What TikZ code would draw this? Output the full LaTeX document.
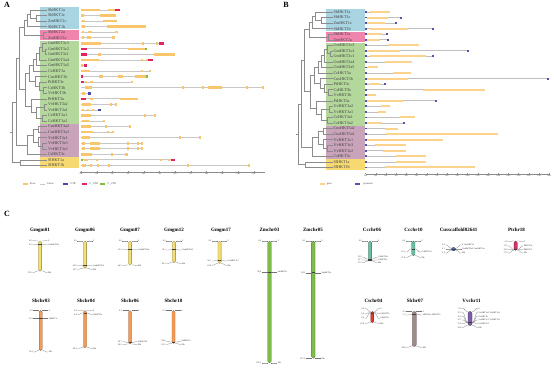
\documentclass[tikz,border=0pt]{standalone}
\usepackage{fontspec}
\setmainfont{Liberation Serif}
\usetikzlibrary{calc}
\definecolor{co}{HTML}{F9C56D}
\definecolor{cr}{HTML}{E0245E}
\definecolor{cg}{HTML}{7CBF3F}
\definecolor{cb}{HTML}{4B4BA6}
\definecolor{Bo}{HTML}{FBD38C}
\definecolor{Bp}{HTML}{5353A8}
\definecolor{boxblue}{HTML}{A9D5E2}
\definecolor{boxpink}{HTML}{EF85AC}
\definecolor{boxgreen}{HTML}{B4D89B}
\definecolor{boxpurple}{HTML}{C9A3B9}
\definecolor{boxyellow}{HTML}{F6D970}
\definecolor{chGm}{HTML}{F6DF72}
\definecolor{chZm}{HTML}{80BC4A}
\definecolor{chCc}{HTML}{6ABFA0}
\definecolor{chCus}{HTML}{4D72B8}
\definecolor{chPt}{HTML}{D8336F}
\definecolor{chSb}{HTML}{F59B55}
\definecolor{chCs}{HTML}{E3392F}
\definecolor{chSl}{HTML}{A08A8A}
\definecolor{chVv}{HTML}{7D5CA8}
\newcommand\chrom[7]{%
 \draw[draw=#6!55!black, fill=#6, line width=0.3pt, rounded corners=#5pt] ({#2-#5},#3) rectangle ({#2+#5},#4);
 \foreach \ya/\yl/\lt/\rt/\m [count=\j] in {#7}{%
   \ifnum\m=1 \draw[black!75, line width=0.45pt] ({#2-#5},\ya) -- ({#2+#5},\ya);\fi
   \draw[conn] ({#2-#5},\ya) -- ({#2-#5-1.5},\ya) -- ({#2-#5-4.5},\yl) -- ({#2-#5-6},\yl);
   \draw[conn] ({#2+#5},\ya) -- ({#2+#5+1.5},\ya) -- ({#2+#5+4.5},\yl) -- ({#2+#5+6},\yl);
   \node[clab,anchor=east] (#1-L\j) at ({#2-#5-6.2},\yl) {\lt};
   \node[clab,anchor=west] (#1-R\j) at ({#2+#5+6.2},\yl) {\rt};
 }%
}
\begin{document}
\begin{tikzpicture}[x=1pt,y=-1pt,
  treeline/.style={draw=black!45, line width=0.45pt},
  leaflab/.style={font=\fontsize{4.2}{4.2}\selectfont, text=black!75, anchor=west, inner sep=0.3pt},
  intron/.style={draw=black!22, line width=0.8pt},
  intronB/.style={draw=black!25, line width=0.7pt},
  ticklab/.style={font=\fontsize{2}{2}\selectfont, text=black!70, inner sep=0.2pt, anchor=north},
  leg/.style={font=\fontsize{2.6}{2.6}\selectfont, text=black!75, inner sep=0.2pt, anchor=west},
  panlab/.style={font=\bfseries\fontsize{8}{8}\selectfont, inner sep=0pt},
  ctitle/.style={font=\bfseries\fontsize{5}{5}\selectfont, inner sep=0pt},
  clab/.style={font=\fontsize{2.2}{2.2}\selectfont, text=black!80, inner sep=0.2pt},
  conn/.style={draw=black!55, line width=0.22pt}]
\useasboundingbox (0,0) rectangle (554,369);
\fill[white] (0,0) rectangle (554,369);

\node[panlab] (labA) at (7,5) {A};
\node[panlab] (labB) at (286,5) {B};
\node[panlab] (labC) at (7,214) {C};

% ---------- trees A and B ----------
\foreach \pn/\xo/\yo in {A/0/10,B/285.5/12}{
 \begin{scope}[shift={(\xo,0)}]
  \foreach \ra/\rb/\col in {1/4/boxblue,5/6/boxpink,7/21/boxgreen,22/27/boxpurple,28/29/boxyellow}
    \fill[\col] (40,{\yo+5.55*(\ra-1)-2.6}) rectangle (79,{\yo+5.55*(\rb-1)+2.6});
  \foreach \x/\ra/\xa/\rb/\xb in {36/2/47/3/47, 30/1/47/2.5/36, 27/1.75/30/4/47, 43/5/47/6/47,
     24/2.875/27/5.5/43, 45/8/47/9/47, 42/7/47/8.5/45, 39/7.75/42/10/47, 36/8.875/39/11/47,
     33/9.9375/36/12/47, 43/15/47/16/47, 39/14/47/15.5/43, 35/13/47/14.75/39,
     29/10.96875/33/13.875/35, 44/18/47/19/47, 42/20/47/21/47, 36/18.5/44/20.5/42,
     31/17/47/19.5/36, 25/12.421875/29/18.25/31, 19/4.1875/24/15.3359/25,
     38/22/47/23/47, 42/25/47/26/47, 38/24/47/25.5/42, 33/22.5/38/24.75/38,
     27/23.625/33/27/47, 16/9.7617/19/25.3125/27, 20/28/47/29/47, 12.5/17.537/16/28.5/20}
    \draw[treeline] (\xa,{\yo+5.55*(\ra-1)}) -- (\x,{\yo+5.55*(\ra-1)}) -- (\x,{\yo+5.55*(\rb-1)}) -- (\xb,{\yo+5.55*(\rb-1)});
  \draw[treeline] (10,{\yo+5.55*(23.018-1)}) -- (12.5,{\yo+5.55*(23.018-1)});
  \foreach \lab [count=\i] in {SbHKT1a,SbHKT1c,ZmHKT1c,SbHKT1b,SbHKT2a,ZmHKT2a,GmHKT3c3,GmHKT3c2,
     GmHKT3c1,GmHKT3a4,GmHKT3a5,CcHKT3a,CusHKT3b,PtHKT3c,CsHKT3b,VvHKT3b,PtHKT3a,VvHKT3a2,
     VvHKT3a1,CcHKT3a1,CcHKT3a2,CusHKT3a2,CusHKT3a1,VvHKT3c1,VvHKT3c3,VvHKT3c2,CsHKT3c,SlHKT1a,SlHKT1b}
    \node[leaflab] (\pn-l\i) at (47.5,{\yo+5.55*(\i-1)}) {\lab};
 \end{scope}
}

% ---------- gene structures A ----------
\foreach \r/\e/\ex in {1/120/{o/81/100,o/108/115,r/115/120},
 2/116/{o/81/84,o/100/116}, 3/117/{o/82/85,o/103/117}, 4/146/{o/82/85,o/107/146},
 5/118/{o/82/84,o/88/92,o/115/118}, 6/115/{o/82/84,o/87/91,o/112/115},
 7/164/{o/81/101,o/142/143.5,o/156/157.5,r/159/164}, 8/147/{r/81/87,o/128/145,g/145/147},
 9/175/{r/81/87,o/98/101,o/154/175}, 10/153/{o/81/99,o/141/143,o/146/148,r/148/153},
 11/87/{o/81/83,r/84/87}, 12/151/{o/81/90,o/141/143,o/149/151},
 13/147.5/{r/81/83,o/99/103,o/118/123,o/135/146,g/146/147.5},
 14/133/{r/81/83.5,o/85/87,o/90/93,o/131/133},
 15/264/{o/85/92,o/182/184,o/202/204,o/208/222,o/246/248,o/262/264},
 16/91/{o/82/85,b/88/91}, 17/138/{r/81/86,o/90/93,o/120/138},
 18/117/{o/82/91,o/110/112,o/115/117}, 19/101/{o/82/84,o/87/89,o/92/94,b/98/101},
 20/156/{o/81/91,o/144/146,o/154/156}, 21/105/{o/82/89,o/103/105},
 22/131/{o/81/91,o/105/107,o/129/131}, 23/114/{o/81/93,o/107/109,o/112/114},
 24/201/{o/82/90,o/179/181,o/199/201}, 25/143/{o/82/85,o/90/100,o/127/129,o/137/139,o/141/143},
 26/143/{o/82/85,o/90/100,o/127/129,o/137/139,o/141/143}, 27/128/{o/81/92,o/111/113,o/125/128},
 28/175/{g/81/82.5,o/84/88,o/96/98,o/160/162,o/168/170,r/171/175},
 29/250/{o/82/86,o/90/92,o/97/99,o/108/110,o/187/189,o/248/250}}{
  \pgfmathsetmacro\yy{10+5.55*(\r-1)}
  \draw[intron] (81,\yy) -- (\e,\yy);
  \foreach \c/\a/\b in \ex { \fill[c\c] (\a,{\yy-1.3}) rectangle (\b,{\yy+1.3}); }
}
\draw[black!45, line width=0.4pt] (80,172) -- (265,172);
\foreach \k in {0,...,11}{
  \draw[black!45, line width=0.3pt] ({81+15.7*\k},172) -- ({81+15.7*\k},171);
  \node[ticklab] (A-t\k) at ({81+15.7*\k},172.6) {\k kb};
}
\fill[co] (23,183.2) rectangle (28,184.8); \node[leg] (legExon) at (29.5,184) {Exon};
\draw[intron] (40,184) -- (45,184); \node[leg] (legIntron) at (47,184) {Intron};
\fill[cb] (63,183.2) rectangle (68,184.8); \node[leg] (legUTR) at (70,184) {UTR};
\fill[cr] (82,183.2) rectangle (87,184.8); \node[leg] (leg5) at (89,184) {5'\_UTR};
\fill[cg] (100,183.2) rectangle (105,184.8); \node[leg] (leg3) at (107,184) {3'\_UTR};

% ---------- gene structures B ----------
\foreach \r/\e/\ex in {1/390/{o/370/390}, 2/401/{o/367/388,p/400/402}, 3/396/{o/367/385,p/395/397},
 4/433/{o/370/408,p/432/434}, 5/387/{o/367/382,p/386/388}, 6/388/{o/367/380,p/387/389},
 7/419/{o/388/419}, 8/468/{o/367/400,p/467/469}, 9/433/{o/370/426,p/432/434},
 10/412/{o/385/412}, 11/378/{o/368/378}, 12/411/{o/393/411}, 13/548/{o/367/408,p/547/549},
 14/385/{o/369/380,p/384/386}, 15/485/{o/423/485}, 16/376/{o/366/376},
 17/436/{o/367/403,p/435/437}, 18/390/{o/381/390}, 19/386/{o/378/386}, 20/415/{o/400/415},
 21/404/{o/367/382,p/403/405}, 22/398/{o/385/398}, 23/498/{o/386/498}, 24/443/{o/368/443},
 25/406/{o/375/406}, 26/406/{o/383/406}, 27/426/{o/396/426}, 28/426/{o/396/426}, 29/475/{o/385/475}}{
  \pgfmathsetmacro\yy{12+5.55*(\r-1)}
  \draw[intronB] (366,\yy) -- (\e,\yy);
  \foreach \c/\a/\b in \ex { \fill[B\c] (\a,{\yy-1}) rectangle (\b,{\yy+1}); }
  \fill[Bp] (365.2,{\yy-0.9}) rectangle (367.2,{\yy+0.9});
}
\draw[black!45, line width=0.4pt] (365.5,174.3) -- (549.5,174.3);
\foreach \k in {0,...,18}{
  \draw[black!45, line width=0.3pt] ({365.5+10.2*\k},174.3) -- ({365.5+10.2*\k},173.3);
  \node[ticklab] (B-t\k) at ({365.5+10.2*\k},174.9) {\k kb};
}
\fill[Bo] (320,183.3) rectangle (324.5,184.7); \node[leg] (legGene) at (326.5,184) {gene};
\fill[Bp] (355,183.3) rectangle (360,184.7); \node[leg] (legProm) at (363,184) {promoter};

% ---------- panel C ----------
\foreach \n/\t/\x/\y in {g01/Gmgm01/40/230, g06/Gmgm06/85/230, g07/Gmgm07/130/230, g12/Gmgm12/174/230,
  g17/Gmgm17/221/230, z03/Zmchr03/269.5/230, z05/Zmchr05/313/230, c06/Ccchr06/372/230,
  c10/Ccchr10/413.5/230, cus/Cusscaffold02641/458.5/230, p18/Ptchr18/516.5/230,
  s03/Sbchr03/41/301, s04/Sbchr04/86/301, s06/Sbchr06/130/301, s10/Sbchr10/173.5/301,
  cs4/Cschr04/373.5/301, sl7/Slchr07/415/301, v11/Vvchr11/471.5/301}
  \node[ctitle] (t-\n) at (\x,\y) {\t};

\chrom{g01}{40}{241}{271.1}{1.6}{chGm}{241/240.3/0.0/0/0, 244.4/244.5/6.3/GmHKT3c2/1, 271.1/272.5/55.9/Mb/0}
\chrom{g06}{85}{241}{268.3}{1.6}{chGm}{241/241/0.0/0/0, 265.5/265.8/45.6/GmHKT3c3/1, 268.3/269.3/50.7/Mb/0}
\chrom{g07}{130}{241}{265}{1.6}{chGm}{241/241/0.0/0/0, 249.2/249.5/15.3/GmHKT3a4/1, 265/265.5/44.7/Mb/0}
\chrom{g12}{174}{241}{262.6}{1.6}{chGm}{241/241/0.0/0/0, 249.7/250/16.1/GmHKT3a5/1, 262.6/263.5/40.1/Mb/0}
\chrom{g17}{219.5}{241}{263.5}{1.6}{chGm}{241/241/0.0/0/0, 260.4/261/36.1/GmHKT3c1/1, 263.5/265.3/41.9/Mb/0}
\chrom{z03}{269.5}{241}{363}{1.7}{chZm}{241/241/0.0/0/0, 272.2/272.2/58.0/ZmHKT1c/1, 363/363/232.1/Mb/0}
\chrom{z05}{313.3}{241}{358.3}{1.7}{chZm}{241/241/0.0/0/0, 272.7/272.7/58.9/ZmHKT2a/1, 358.3/358.3/217.9/Mb/0}
\chrom{c06}{370}{241}{261.1}{1.6}{chCc}{241/241/0.0/0/0, 259.1/257.2/33.6/CcHKT3a1/1, 260.2/259.9/35.7/CcHKT3a/1, 261.1/262.6/37.3/Mb/0}
\chrom{c10}{413.3}{241}{255.8}{1.6}{chCc}{241/241/0.0/0/0, 249.1/252/15.1/CcHKT3a2/1, 255.8/257.3/27.6/Mb/0}
\chrom{cus}{453.5}{247.4}{250.8}{2}{chCus}{248/245/0.0/0 CusHKT3b/0, 249/249/0.1/CusHKT3a2 CusHKT3a1/1, 250.4/253/0.3/Mb/0}
\chrom{p18}{515.7}{241}{250.3}{1.6}{chPt}{241/241.5/0.0/0/0, 249.2/246/15.2/PtHKT3a/1, 249.6/249.3/16.0/PtHKT3c/1, 250.3/253/17.0/Mb/0}

\chrom{s03}{40.7}{310.5}{350.5}{1.5}{chSb}{310.5/310.5/0.0/0/0, 318.6/318.6/15.2/SbHKT1c/1, 350.5/352/74.4/Mb/0}
\chrom{s04}{85}{310.5}{347.6}{1.5}{chSb}{310.5/310.3/0.0/0/0, 313.1/314.5/4.8/SbHKT1a/1, 347.6/348.3/69.0/Mb/0}
\chrom{s06}{130}{310.5}{344}{1.5}{chSb}{310.5/310.5/0.0/0/0, 342.6/341.7/59.7/SbHKT1b/1, 344/344.6/62.2/Mb/0}
\chrom{s10}{173.5}{310.5}{343.4}{1.5}{chSb}{310.5/310.5/0.0/0/0, 342.1/341.2/58.8/SbHKT2a/1, 343.4/344.3/61.1/Mb/0}
\chrom{cs4}{372.3}{311.5}{322.6}{1.5}{chCs}{311.5/308.5/0.0/0/0, 312.8/313.3/2.4/CsHKT3b/1, 313/318.2/2.6/CsHKT3c/1, 322.6/323.3/20.6/Mb/0}
\chrom{sl7}{414.3}{311.5}{346.4}{2}{chSl}{311.5/311.5/0.0/0/0, 314.2/315/5.1/SlHKT1a SlHKT1b/1, 346.4/347.3/64.8/Mb/0}
\chrom{v11}{470}{311.5}{325.5}{2}{chVv}{311.5/308.3/0.0/0/0, 322.1/312.7/15.3/VvHKT3a2 VvHKT3a1/1, 322.3/316.4/15.4/VvHKT3b/1, 322.5/320/15.7/VvHKT3c1 VvHKT3c2/1, 322.6/323.6/15.8/VvHKT3c3/1, 325.5/327.3/19.8/Mb/0}
\end{tikzpicture}
\end{document}
